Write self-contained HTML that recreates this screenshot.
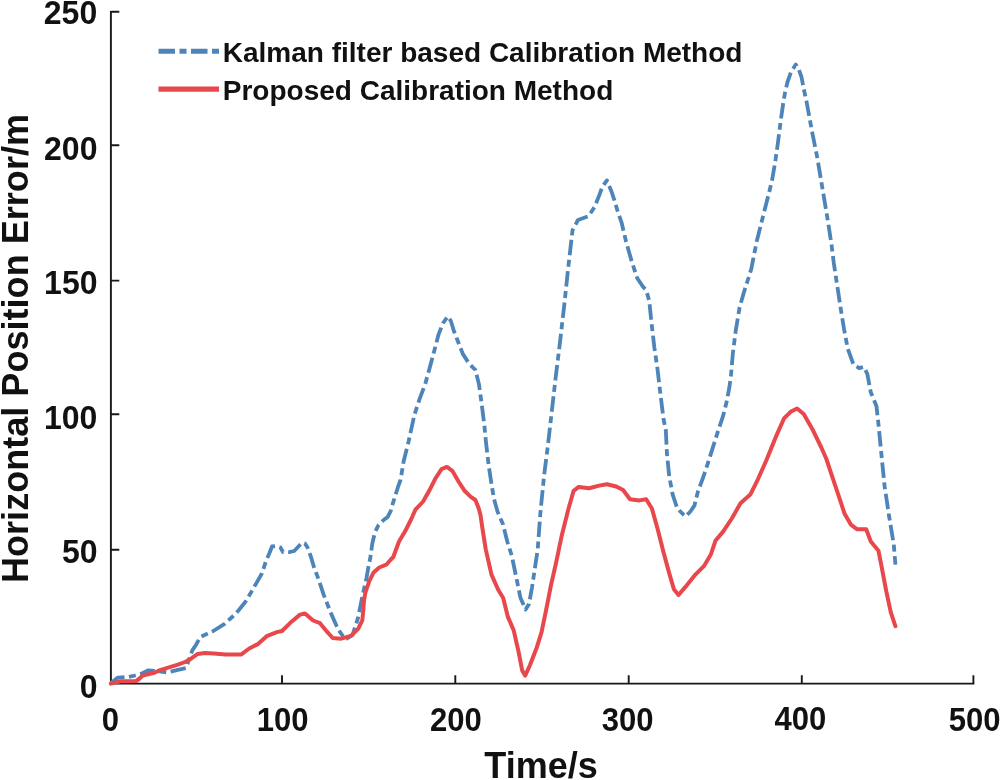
<!DOCTYPE html>
<html><head><meta charset="utf-8"><style>
html,body{margin:0;padding:0;background:#fff;}
body{width:1000px;height:780px;overflow:hidden;font-family:"Liberation Sans", sans-serif;}
svg{display:block;will-change:transform;}
</style></head><body>
<svg width="1000" height="780" viewBox="0 0 1000 780">
<rect width="1000" height="780" fill="#fff"/>
<path d="M110.9,10.9 V683.6 H974.3" fill="none" stroke="#181818" stroke-width="1.9"/>
<path d="M110.9,549.8 H119.3 M110.9,414.2 H119.3 M110.9,280.6 H119.3 M110.9,145.2 H119.3 M110.9,11.8 H119.3 M282.0,683.6 V675.2 M455.3,683.6 V675.2 M628.7,683.6 V675.2 M801.8,683.6 V675.2 M973.4,683.6 V675.2" fill="none" stroke="#181818" stroke-width="1.9"/>
<g font-family='"Liberation Sans", sans-serif' font-weight="bold" font-size="32" fill="#111"><text transform="translate(97.45,698.15) scale(1,1.05)" text-anchor="end">0</text><text transform="translate(97.65,562.65) scale(1,1.05)" text-anchor="end">50</text><text transform="translate(97.40,428.70) scale(1,1.05)" text-anchor="end">100</text><text transform="translate(97.50,293.90) scale(1,1.05)" text-anchor="end">150</text><text transform="translate(97.45,159.65) scale(1,1.05)" text-anchor="end">200</text><text transform="translate(97.20,23.90) scale(1,1.05)" text-anchor="end">250</text><text transform="translate(110.30,731.05) scale(0.97,1.05)" text-anchor="middle">0</text><text transform="translate(282.70,730.80) scale(0.97,1.05)" text-anchor="middle">100</text><text transform="translate(455.90,730.60) scale(0.97,1.05)" text-anchor="middle">200</text><text transform="translate(627.60,730.60) scale(0.97,1.05)" text-anchor="middle">300</text><text transform="translate(800.40,730.30) scale(0.97,1.05)" text-anchor="middle">400</text><text transform="translate(974.70,730.60) scale(0.97,1.05)" text-anchor="middle">500</text></g>
<text x="541" y="777.5" text-anchor="middle" font-family='"Liberation Sans", sans-serif' font-weight="bold" font-size="36" fill="#111">Time/s</text>
<text transform="translate(28.2,348.5) rotate(-90)" x="0" y="0" text-anchor="middle" font-family='"Liberation Sans", sans-serif' font-weight="bold" font-size="36.1" fill="#111">Horizontal Position Error/m</text>
<polyline points="110.8,683 118,677.6 128.4,677 135,675.5 141.4,673.7 147.9,670.5 157,671.1 167.4,672.4 177.8,669.8 186.3,667.9 188.7,660.2 192.3,650.4 195.9,645 200.4,636.9 213.3,631 224.6,623.8 235.9,613.6 245.1,602.3 251.3,592 253.8,587.6 262,573.3 266,561 269.6,552.8 272,546.5 276,546 280.4,547.5 283,552 289,552.2 294.2,551 298,547 302,542.6 305,543.5 307.5,547.5 311,557 314,567.2 318.5,579.2 323.9,595.4 331,613.4 338.2,629.5 345.4,639.4 352.6,634.9 358.1,617.6 362.3,596.4 366.5,578.1 368.7,565.4 370.3,558 372.3,543.6 374.9,532.3 378.5,525.1 383.6,520 387.7,516.9 390.8,510.8 392.8,503.6 395.4,495.4 397.9,487.2 400.5,480 403.6,461.5 408.7,441 414.4,414.9 419.7,398.7 425.1,384.4 429.6,368.2 434.5,350 438.5,334.6 443.1,323 447.7,316.5 450.8,320.8 453.8,330.8 457.7,340.8 462.8,353.9 469.1,363.7 475.4,370 479,384.4 481.7,404.1 484.4,425.7 485.9,441.5 488.6,464.8 491.3,482.8 494,498.9 497.5,511.5 502.9,524 507.4,542 511.7,555.4 516.5,578.5 520.4,597.7 525.6,609.5 529,604 531.9,588.1 534.8,568.8 537.7,549.6 540.3,513.8 544.1,475.4 548,444.6 551.8,411.3 555.6,378 559.9,343.1 564.1,306.5 568.3,267 572.5,230.4 578,220 588.5,216.2 594.6,206.9 599.2,195.4 602.3,186.9 606.9,180.4 611.5,191.5 614.6,200.8 617.7,211.5 621.5,222.3 626.1,241.7 631.7,261.4 637.3,278.3 643,286.8 646.2,290.3 649.2,300.5 651.3,321 654.4,347.7 657.4,368.2 660.5,394.9 663.6,419.5 665.8,430 666.9,453.1 669.2,476.2 672.7,494.6 677.3,508.5 685.4,516.5 690,512 694.4,505.7 698,491.3 703.3,477 708.7,460.8 713.2,446.4 717.7,432.1 723.1,415.9 726.7,401.5 729.4,387.2 731,375 732.9,353.1 735.6,331.5 739.6,307.3 744.1,291.8 751.2,269.3 756.8,241 763.9,212.8 768.5,195 772.3,179 775.5,160 778,142.3 780.8,120 783.7,100 785,93 787.5,82 791,72 795.8,64.5 799,70 801.5,77 804,90 806.5,101.5 811.9,130.8 817.3,157.7 822.7,190 828.1,222.3 831.5,244.6 833.8,263.1 837.3,286.2 840.8,309.2 844.2,330 847.7,348.5 853.5,364.6 859.2,368.1 863.8,366.9 867.3,373.9 870.8,392.3 876.5,406.2 878.5,424.6 881.5,455.4 884.6,486.2 889.2,516.9 893.8,544.6 895.4,564.6" fill="none" stroke="#4d85b8" stroke-width="3.8" stroke-dasharray="15.5 4.5 7 4.5" stroke-linejoin="round"/>
<polyline points="110.8,683.6 120.6,681.2 127.4,681.2 136.2,681 139,679 142.7,675.5 154.4,672.8 160,670.1 169,667.4 177.9,664.7 185.1,662 191.4,658.4 197.7,653.9 204.8,653 213.8,653.5 225.6,654.6 241,654.6 249.2,648.5 257.4,644.4 266.7,636.2 276.9,632.1 282,631 290.3,622.8 300,614.6 305,613.4 313.1,620.5 320,623.2 327,631.7 332.7,638 341.2,638.7 351,635.9 358.1,628.9 362.3,620.4 363.5,607.7 364,600 365.5,592.2 369.4,580.9 373.6,572.4 379.2,567.5 386.3,564.7 390.8,559.5 393.3,557 399,541.5 405.1,531.3 411.3,519 415.4,509.7 423.1,501.5 429.2,490.8 435.4,478.5 441.5,469.2 446.9,466.9 452.3,470.8 458.5,481.5 464.6,490.8 470.8,496.9 475.4,500 478.5,507.7 480.5,515 482.3,527.6 485.8,549.6 491.5,574.6 498.3,590 503.1,597.7 507.9,616.9 513.7,630.4 518.5,651.5 522.3,670.8 525.2,675.6 530,665 536.7,647.7 541.5,632.3 546.3,609.2 551.2,584.2 556,563.1 562,534.4 568.5,508.7 573.6,490.8 578.7,486.9 589,488.2 599.2,485.6 606.9,484.2 616.2,486.5 623.1,490 630,499.2 639.2,500.4 646.2,499.2 651.9,508.5 657.7,529.2 663.5,552.3 669.2,573.1 673.9,589.2 678.5,595 685.4,586.9 694.6,575.4 703.9,566.2 710.8,554.6 715.4,540.8 723.1,531.6 731.8,518.5 740.5,503.3 750.3,494.6 757.9,479.3 766.6,459.7 775.4,437.9 784.1,418.3 790.6,411.8 797.1,408.5 803.7,414 812.4,429.2 821.1,447 826.2,458.5 832.3,476.9 838.5,495.4 844.6,513.8 850.8,524.6 856.9,529.2 866.2,529.2 870.8,541.5 878.5,550.8 881.5,566.2 886.2,590.8 890.8,612.3 895.4,626.2" fill="none" stroke="#e8474c" stroke-width="4" stroke-linejoin="round" stroke-linecap="round"/>
<line x1="158.5" y1="51.2" x2="219" y2="51.2" stroke="#4d85b8" stroke-width="5" stroke-dasharray="16.5 4.5 7 4.5"/>
<line x1="158.5" y1="89.2" x2="219" y2="89.2" stroke="#e8474c" stroke-width="5.2"/>
<g font-family='"Liberation Sans", sans-serif' font-weight="bold" font-size="28" fill="#111"><text x="222.8" y="62">Kalman filter based Calibration Method</text><text x="222.8" y="100">Proposed Calibration Method</text></g>
</svg>
</body></html>
